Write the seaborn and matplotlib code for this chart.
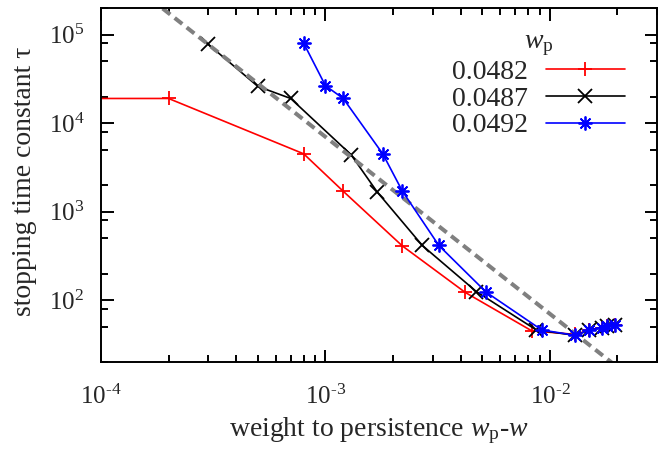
import numpy as np
import pandas as pd
import matplotlib
matplotlib.use('Agg')
import matplotlib.pyplot as plt
import seaborn as sns
from matplotlib.ticker import LogLocator, FuncFormatter, NullFormatter

# values
wp_labels = ['0.0482', '0.0487', '0.0492']

red_x = [5e-5, 2e-4, 8e-4, 1.2e-3, 2.2e-3, 4.2e-3, 8.3e-3, 1.3e-2, 1.5e-2, 1.7e-2, 1.8e-2, 1.95e-2]
red_y = [1.9e4, 1.9e4, 4500, 1700, 410, 122, 45, 41, 46, 49, 51, 53]

black_x = [3e-4, 5e-4, 7e-4, 1.3e-3, 1.7e-3, 2.7e-3, 4.7e-3, 8.7e-3, 1.3e-2, 1.5e-2, 1.7e-2, 1.8e-2, 1.95e-2]
black_y = [7.8e4, 2.6e4, 1.9e4, 4400, 1670, 415, 125, 46, 40, 46, 49, 51, 53]

blue_x = [8e-4, 1e-3, 1.2e-3, 1.8e-3, 2.2e-3, 3.2e-3, 5.2e-3, 9.2e-3, 1.3e-2, 1.5e-2, 1.7e-2, 1.8e-2, 1.95e-2]
blue_y = [8e4, 2.65e4, 1.9e4, 4500, 1710, 415, 123, 46, 40, 46, 49, 51, 53]

# power-law guide (slope -2)
guide_x = [1.5e-4, 2.5e-2]
guide_y = [3.11e5, 11.2]

sns.set_theme(style='ticks')
plt.rcParams['font.family'] = ['Liberation Serif', 'DejaVu Serif']
plt.rcParams['mathtext.fontset'] = 'custom'
plt.rcParams['mathtext.rm'] = 'Liberation Serif'
plt.rcParams['mathtext.it'] = 'Liberation Serif:italic'
plt.rcParams['font.size'] = 20

fig = plt.figure(figsize=(6.58, 4.49), dpi=100)
ax = fig.add_axes([101 / 658, 1 - 362 / 449, 556 / 658, 354 / 449])

series = [
    (red_x, red_y, 'red', '+', wp_labels[0]),
    (black_x, black_y, 'black', 'x', wp_labels[1]),
]
for xs, ys, col, mk, lab in series:
    sns.lineplot(x=xs, y=ys, color=col, marker=mk, markersize=9.5, markeredgewidth=1.3,
                 markeredgecolor=col, linewidth=1.2, label=lab, ax=ax)

sns.lineplot(x=guide_x, y=guide_y, color='#808080', linewidth=2.9,
             linestyle=(0, (2.4, 1.4)), ax=ax)

sns.lineplot(x=blue_x, y=blue_y, color='blue', marker=(8, 2, 0), markersize=10,
             markeredgewidth=1.3, markeredgecolor='blue', linewidth=1.2,
             label=wp_labels[2], ax=ax)

ax.set_xscale('log')
ax.set_yscale('log')
ax.set_xlim(1e-4, 3e-2)
ax.set_ylim(20, 2e5)

ax.xaxis.set_major_locator(LogLocator(base=10, numticks=10))
ax.xaxis.set_minor_locator(LogLocator(base=10, subs=np.arange(2, 10), numticks=20))
ax.yaxis.set_major_locator(LogLocator(base=10, numticks=10))
ax.yaxis.set_minor_locator(LogLocator(base=10, subs=[2, 5, 8], numticks=20))


def fmt(v, pos):
    e = int(round(np.log10(v)))
    if e < 0:
        return r'$\mathdefault{10^{\text{-}%d}}$' % (-e)
    return r'$\mathdefault{10^{%d}}$' % e


ax.xaxis.set_major_formatter(FuncFormatter(fmt))
ax.yaxis.set_major_formatter(FuncFormatter(fmt))
ax.xaxis.set_minor_formatter(NullFormatter())
ax.yaxis.set_minor_formatter(NullFormatter())

for sp in ax.spines.values():
    sp.set_linewidth(1.4)
    sp.set_color('black')
ax.tick_params(which='both', direction='in', top=True, right=True, width=1.4,
               color='black', labelsize=18)
ax.tick_params(which='major', length=9)
ax.tick_params(which='minor', length=5)
ax.tick_params(axis='x', pad=16)
ax.tick_params(axis='y', pad=12)

ax.set_xlabel(r'weight to persistence $w_{\mathrm{p}}$-$w$', fontsize=20)
ax.set_ylabel('stopping time constant τ', fontsize=20)
ax.xaxis.set_label_coords(0.5, -(415 - 362) / 354)
ax.yaxis.set_label_coords(-(101 - 37) / 556, (362 - 181) / 354)

leg = ax.legend(title=r'$w_{\mathrm{p}}$', loc='upper right', frameon=False,
                markerfirst=False, numpoints=1, handlelength=2.85,
                handletextpad=0.65, labelspacing=0.05, borderpad=0,
                borderaxespad=0, fontsize=20, title_fontsize=20,
                bbox_to_anchor=(625 / 658, 1 - 29 / 449),
                bbox_transform=fig.transFigure)

fig.savefig('out.png', dpi=100)
